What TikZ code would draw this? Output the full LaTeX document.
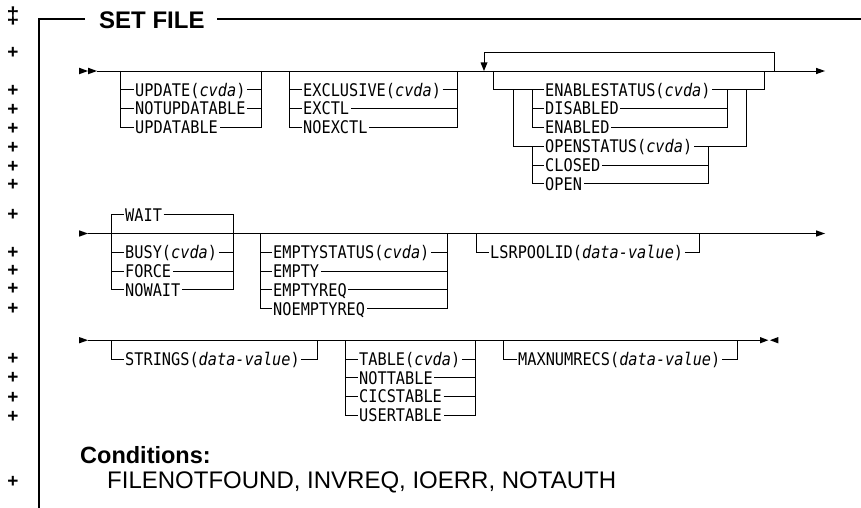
\documentclass[tikz,border=0pt]{standalone}
\usepackage{fontspec}
\setmainfont{Liberation Sans}
\newfontfamily\dmono[FakeStretch=0.877]{DejaVu Sans Mono}
\newcommand\optf{\dmono\fontsize{17.4}{20}\selectfont}
\newcommand\cv{\textit{cvda}}
\newcommand\dv{\textit{data-value}}
\begin{document}
\begin{tikzpicture}[x=1pt,y=-1pt,
  ln/.style={line width=0.9pt},
  fr/.style={line width=1.4pt},
  opt/.style={font=\optf, anchor=west, inner xsep=1.5pt, inner ysep=0pt, text height=12.7pt, text depth=0pt},
  mk/.style={font=\bfseries\fontsize{19}{19}\selectfont, anchor=base, inner sep=0pt},
  tip/.style={fill=black}]
\useasboundingbox (0,0) rectangle (861,508);

% ---------- frame and title ----------
\node[font=\bfseries\fontsize{24}{28}\selectfont, anchor=base west, inner sep=0pt] (title) at (99,29) {SET FILE};
\coordinate (fl) at (85,19);
\coordinate (fc) at (39,19);
\coordinate (fb) at (39,508);
\coordinate (fr1) at (217,19);
\coordinate (fr2) at (861,19);
\draw[fr] (fl) -- (fc) -- (fb);
\draw[fr] (fr1) -- (fr2);

% ---------- margin marks ----------
\node[font=\bfseries\fontsize{23}{23}\selectfont, anchor=base, inner sep=0pt] (dd) at (13,24) {‡};
\foreach \yy [count=\i] in {52,90,109,128,147,166,184,214,252,270,288,308,358,377,397,416,481}
  \node[mk] (pl\i) at (13,\yy+6.6) {+};

% ================= ROW 1 =================
\fill[tip] (79,67.7) -- (88,71) -- (79,74.3) -- cycle;
\fill[tip] (88,67.7) -- (97,71) -- (88,74.3) -- cycle;
\draw[ln] (97,71) -- (816,71);
\fill[tip] (816,67.8) -- (825,71) -- (816,74.2) -- cycle;

% UPDATE group
\node[opt] (upd)  at (133.5,89.8)  {UPDATE(\cv)};
\node[opt] (nupd) at (133.5,108.6) {NOTUPDATABLE};
\node[opt] (updt) at (133.5,127.4) {UPDATABLE};
\draw[ln] (120,71) -- (120,127.4) -- (updt.west);
\draw[ln] (120,89.8) -- (upd.west);
\draw[ln] (120,108.6) -- (nupd.west);
\draw[ln] (261,71) -- (261,127.4) -- (updt.east);
\draw[ln] (upd.east) -- (261,89.8);
\draw[ln] (nupd.east) -- (261,108.6);

% EXCLUSIVE group
\node[opt] (exc)   at (301.5,89.8)  {EXCLUSIVE(\cv)};
\node[opt] (exctl) at (301.5,108.6) {EXCTL};
\node[opt] (noexc) at (301.5,127.4) {NOEXCTL};
\draw[ln] (289,71) -- (289,127.4) -- (noexc.west);
\draw[ln] (289,89.8) -- (exc.west);
\draw[ln] (289,108.6) -- (exctl.west);
\draw[ln] (457,71) -- (457,127.4) -- (noexc.east);
\draw[ln] (exc.east) -- (457,89.8);
\draw[ln] (exctl.east) -- (457,108.6);

% repeat loop
\draw[ln] (484,63) -- (484,52) -- (774,52) -- (774,71);
\fill[tip] (480.5,62.5) -- (484,71) -- (487.5,62.5) -- cycle;

% ENABLESTATUS / OPENSTATUS group
\node[opt] (ens) at (543.5,89.8)  {ENABLESTATUS(\cv)};
\node[opt] (dis) at (543.5,108.6) {DISABLED};
\node[opt] (ena) at (543.5,127.4) {ENABLED};
\node[opt] (ops) at (543.5,146.2) {OPENSTATUS(\cv)};
\node[opt] (clo) at (543.5,165)   {CLOSED};
\node[opt] (ope) at (543.5,183.8) {OPEN};
\draw[ln] (493,71) -- (493,89.8) -- (ens.west);
\draw[ln] (513,89.8) -- (513,146.2) -- (ops.west);
\draw[ln] (532,89.8) -- (532,127.4) -- (ena.west);
\draw[ln] (532,108.6) -- (dis.west);
\draw[ln] (532,146.2) -- (532,183.8) -- (ope.west);
\draw[ln] (532,165) -- (clo.west);
\draw[ln] (ens.east) -- (764,89.8) -- (764,71);
\draw[ln] (727,89.8) -- (727,127.4) -- (ena.east);
\draw[ln] (dis.east) -- (727,108.6);
\draw[ln] (746,89.8) -- (746,146.2) -- (ops.east);
\draw[ln] (708,146.2) -- (708,183.8) -- (ope.east);
\draw[ln] (clo.east) -- (708,165);

% ================= ROW 2 =================
\fill[tip] (79,230.3) -- (88,233.5) -- (79,236.7) -- cycle;
\draw[ln] (88,233.5) -- (816,233.5);
\fill[tip] (816,230.3) -- (825,233.5) -- (816,236.7) -- cycle;

% WAIT group
\node[opt] (wait)   at (123.5,214.7) {WAIT};
\node[opt] (busy)   at (123.5,252.3) {BUSY(\cv)};
\node[opt] (force)  at (123.5,271.1) {FORCE};
\node[opt] (nowait) at (123.5,289.9) {NOWAIT};
\draw[ln] (wait.west) -- (111,214.7) -- (111,289.9) -- (nowait.west);
\draw[ln] (111,252.3) -- (busy.west);
\draw[ln] (111,271.1) -- (force.west);
\draw[ln] (wait.east) -- (233,214.7) -- (233,289.9) -- (nowait.east);
\draw[ln] (busy.east) -- (233,252.3);
\draw[ln] (force.east) -- (233,271.1);

% EMPTYSTATUS group
\node[opt] (ests)   at (271.5,252.3) {EMPTYSTATUS(\cv)};
\node[opt] (empty)  at (271.5,271.1) {EMPTY};
\node[opt] (ereq)   at (271.5,289.9) {EMPTYREQ};
\node[opt] (noereq) at (271.5,308.7) {NOEMPTYREQ};
\draw[ln] (260.7,233.5) -- (260.7,308.7) -- (noereq.west);
\draw[ln] (260.7,252.3) -- (ests.west);
\draw[ln] (260.7,271.1) -- (empty.west);
\draw[ln] (260.7,289.9) -- (ereq.west);
\draw[ln] (447,233.5) -- (447,308.7) -- (noereq.east);
\draw[ln] (ests.east) -- (447,252.3);
\draw[ln] (empty.east) -- (447,271.1);
\draw[ln] (ereq.east) -- (447,289.9);

% LSRPOOLID
\node[opt] (lsr) at (488.5,252.3) {LSRPOOLID(\dv)};
\draw[ln] (476,233.5) -- (476,252.3) -- (lsr.west);
\draw[ln] (lsr.east) -- (699,252.3) -- (699,233.5);

% ================= ROW 3 =================
\fill[tip] (79,337) -- (88,340.2) -- (79,343.4) -- cycle;
\draw[ln] (88,340.2) -- (760,340.2);
\fill[tip] (760,337) -- (768.3,340.2) -- (760,343.4) -- cycle;
\fill[tip] (778.3,337) -- (770,340.2) -- (778.3,343.4) -- cycle;

% STRINGS
\node[opt] (str) at (123.5,359) {STRINGS(\dv)};
\draw[ln] (111,340.2) -- (111,359) -- (str.west);
\draw[ln] (str.east) -- (317,359) -- (317,340.2);

% TABLE group
\node[opt] (tab)  at (357.5,359)   {TABLE(\cv)};
\node[opt] (ntab) at (357.5,377.8) {NOTTABLE};
\node[opt] (ctab) at (357.5,396.6) {CICSTABLE};
\node[opt] (utab) at (357.5,415.4) {USERTABLE};
\draw[ln] (345,340.2) -- (345,415.4) -- (utab.west);
\draw[ln] (345,359) -- (tab.west);
\draw[ln] (345,377.8) -- (ntab.west);
\draw[ln] (345,396.6) -- (ctab.west);
\draw[ln] (475,340.2) -- (475,415.4) -- (utab.east);
\draw[ln] (tab.east) -- (475,359);
\draw[ln] (ntab.east) -- (475,377.8);
\draw[ln] (ctab.east) -- (475,396.6);

% MAXNUMRECS
\node[opt] (maxn) at (516.5,359) {MAXNUMRECS(\dv)};
\draw[ln] (503,340.2) -- (503,359) -- (maxn.west);
\draw[ln] (maxn.east) -- (737,359) -- (737,340.2);

% ---------- conditions ----------
\node[font=\bfseries\fontsize{23.5}{28}\selectfont, anchor=base west, inner sep=0pt] (cond) at (80,463) {Conditions:};
\node[font=\fontsize{24}{28}\selectfont, anchor=base west, inner sep=0pt] (clist) at (107,488) {FILENOTFOUND, INVREQ, IOERR, NOTAUTH};
\end{tikzpicture}
\end{document}
